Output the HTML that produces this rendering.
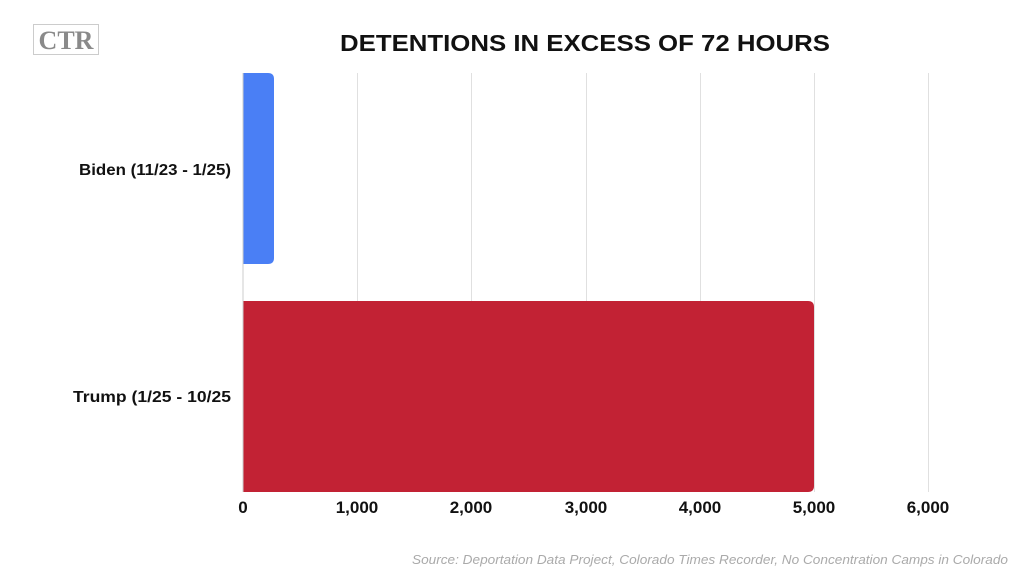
<!DOCTYPE html>
<html><head><style>
body{margin:0;width:1024px;height:577px;background:#fff;overflow:hidden;font-family:"Liberation Sans",sans-serif;}
</style></head><body>
<svg width="1024" height="577" xmlns="http://www.w3.org/2000/svg">
<rect x="33.5" y="24.5" width="65" height="30" fill="#fff" stroke="#ccc" stroke-width="1"/>
<text x="66" y="49" text-anchor="middle" font-family="Liberation Serif,serif" font-weight="bold" font-size="26" fill="#8a8a8a">CTR</text>
<text x="340" y="51" textLength="490" lengthAdjust="spacingAndGlyphs" font-weight="bold" font-size="23" fill="#111">DETENTIONS IN EXCESS OF 72 HOURS</text>
<g stroke="#e0e0e0" stroke-width="1">
<line x1="357.5" y1="73" x2="357.5" y2="492"/>
<line x1="471.5" y1="73" x2="471.5" y2="492"/>
<line x1="586.5" y1="73" x2="586.5" y2="492"/>
<line x1="700.5" y1="73" x2="700.5" y2="492"/>
<line x1="814.5" y1="73" x2="814.5" y2="492"/>
<line x1="928.5" y1="73" x2="928.5" y2="492"/>
</g>
<path d="M243 73 H268 Q274 73 274 79 V258 Q274 264 268 264 H243 Z" fill="#4a7ff5"/>
<path d="M243 301 H808 Q814 301 814 307 V486 Q814 492 808 492 H243 Z" fill="#c22234"/>
<line x1="243" y1="73" x2="243" y2="492" stroke="#ccc"/>
<g font-weight="bold" font-size="16" fill="#111">
<text x="79" y="175" textLength="152" lengthAdjust="spacingAndGlyphs">Biden (11/23 - 1/25)</text>
<text x="73" y="402" textLength="158" lengthAdjust="spacingAndGlyphs">Trump (1/25 - 10/25</text>
</g>
<g font-weight="bold" font-size="17" fill="#111" text-anchor="middle">
<text x="243" y="513">0</text>
<text x="357" y="513">1,000</text>
<text x="471" y="513">2,000</text>
<text x="586" y="513">3,000</text>
<text x="700" y="513">4,000</text>
<text x="814" y="513">5,000</text>
<text x="928" y="513">6,000</text>
</g>
<text x="412" y="564" textLength="596" lengthAdjust="spacingAndGlyphs" font-style="italic" font-size="13" fill="#aaa">Source: Deportation Data Project, Colorado Times Recorder, No Concentration Camps in Colorado</text>
</svg>
</body></html>
